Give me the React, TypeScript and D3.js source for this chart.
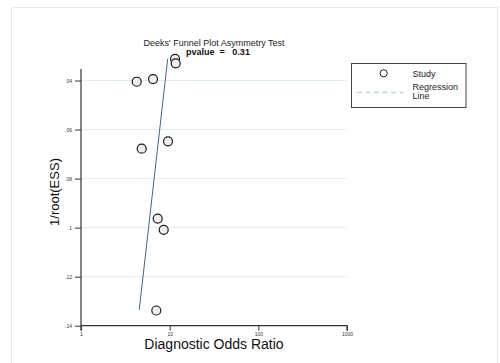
import React, { useEffect, useRef } from "react";
import * as d3 from "d3";

// study points
const studyDOR = [4.25, 6.49, 11.5, 11.7, 4.84, 9.58, 7.33, 8.57, 7.07];
const studyESS = [0.0405, 0.0394, 0.0312, 0.033, 0.0678, 0.0648, 0.0963, 0.1009, 0.1338];

// regression line end points
const lineDOR = [9.5, 4.54];
const lineESS = [0.0312, 0.1335];

const yTicks = [0.04, 0.06, 0.08, 0.1, 0.12, 0.14];
const yTickLabels = [".04", ".06", ".08", ".1", ".12", ".14"];
const xTicks = [1, 10, 100, 1000];

const title = "Deeks' Funnel Plot Asymmetry Test";
const pvalue = "pvalue  =   0.31";

const font = "'Liberation Sans', Arial, Helvetica, sans-serif";

const App = () => {
    const ref = useRef(null);

    useEffect(() => {
        const svg = d3.select(ref.current);
        svg.selectAll("*").remove();

        const x = d3.scaleLog().domain([1, 1000]).range([81, 347]);
        const y = d3.scaleLinear().domain([0.04, 0.14]).range([80.5, 325.7]);

        // outer frame
        svg.append("rect")
            .attr("x", 11.5).attr("y", 7.5)
            .attr("width", 486).attr("height", 370)
            .attr("fill", "white")
            .attr("stroke", "#e6edf0");

        // grid
        svg.append("g").selectAll("line")
            .data(yTicks.slice(0, -1))
            .enter().append("line")
            .attr("x1", x(1)).attr("x2", x(1000))
            .attr("y1", d => y(d)).attr("y2", d => y(d))
            .attr("stroke", "#e3eef3").attr("stroke-width", 1);

        // y axis
        const yAxis = d3.axisLeft(y)
            .tickValues(yTicks)
            .tickFormat((d, i) => yTickLabels[i])
            .tickSize(6)
            .tickPadding(3);
        const gy = svg.append("g").attr("transform", `translate(${x(1)},0)`).call(yAxis);
        gy.select(".domain").remove();
        gy.append("line")
            .attr("x1", 0).attr("x2", 0)
            .attr("y1", 69).attr("y2", y(0.14))
            .attr("stroke", "#333").attr("stroke-width", 1.2);

        // x axis
        const xAxis = d3.axisBottom(x)
            .tickValues(xTicks)
            .tickFormat(d3.format("d"))
            .tickSize(5)
            .tickPadding(2);
        const gx = svg.append("g").attr("transform", `translate(0,${y(0.14)})`).call(xAxis);
        gx.select(".domain")
            .attr("d", `M${x(1)},5V0H${x(1000)}V5`)
            .attr("stroke", "#333").attr("stroke-width", 1.2);

        [gx, gy].forEach(g => {
            g.selectAll(".tick line").attr("stroke", "#333");
            g.selectAll("text")
                .attr("font-family", font)
                .attr("font-size", 5)
                .attr("fill", "#333");
        });

        // regression line
        svg.append("line")
            .attr("x1", x(lineDOR[0])).attr("y1", y(lineESS[0]))
            .attr("x2", x(lineDOR[1])).attr("y2", y(lineESS[1]))
            .attr("stroke", "#3a6794").attr("stroke-width", 1);

        // studies
        svg.append("g").selectAll("circle")
            .data(studyDOR)
            .enter().append("circle")
            .attr("cx", d => x(d))
            .attr("cy", (d, i) => y(studyESS[i]))
            .attr("r", 4.5)
            .attr("fill", "#eeeeee")
            .attr("stroke", "#1a1a1a")
            .attr("stroke-width", 1.2);

        // titles
        svg.append("text")
            .attr("x", 214).attr("y", 46)
            .attr("text-anchor", "middle")
            .attr("font-family", font).attr("font-size", 9)
            .attr("fill", "#222")
            .text(title);
        svg.append("text")
            .attr("x", 218).attr("y", 54.5)
            .attr("text-anchor", "middle")
            .attr("font-family", font).attr("font-size", 9)
            .attr("font-weight", "bold")
            .attr("fill", "#111")
            .attr("xml:space", "preserve")
            .style("white-space", "pre")
            .text(pvalue);

        svg.append("text")
            .attr("transform", "translate(59,192) rotate(-90)")
            .attr("text-anchor", "middle")
            .attr("font-family", font).attr("font-size", 13)
            .attr("fill", "#111")
            .text("1/root(ESS)");
        svg.append("text")
            .attr("x", 214).attr("y", 349)
            .attr("text-anchor", "middle")
            .attr("font-family", font).attr("font-size", 14)
            .attr("fill", "#111")
            .text("Diagnostic Odds Ratio");

        // legend
        const legend = svg.append("g").attr("class", "legend");
        legend.append("rect")
            .attr("x", 351.5).attr("y", 63.5)
            .attr("width", 114.5).attr("height", 44)
            .attr("fill", "white").attr("stroke", "#444");
        legend.append("circle")
            .attr("cx", 383.7).attr("cy", 73.3).attr("r", 3.6)
            .attr("fill", "white").attr("stroke", "#222").attr("stroke-width", 1);
        legend.append("line")
            .attr("x1", 357).attr("x2", 403.5)
            .attr("y1", 92.3).attr("y2", 92.3)
            .attr("stroke", "#a9c3d6").attr("stroke-width", 1)
            .attr("stroke-dasharray", "5,3.5");
        [["Study", 76.5], ["Regression", 89.5], ["Line", 98.8]].forEach(([t, yy]) => {
            legend.append("text")
                .attr("x", 412.5).attr("y", yy)
                .attr("font-family", font).attr("font-size", 9)
                .attr("fill", "#222")
                .text(t);
        });
    }, []);

    return (
        <svg
            ref={ref}
            width={500}
            height={363}
            style={{ position: "absolute", left: 0, top: 0, background: "white" }}
        />
    );
};

export default App;
